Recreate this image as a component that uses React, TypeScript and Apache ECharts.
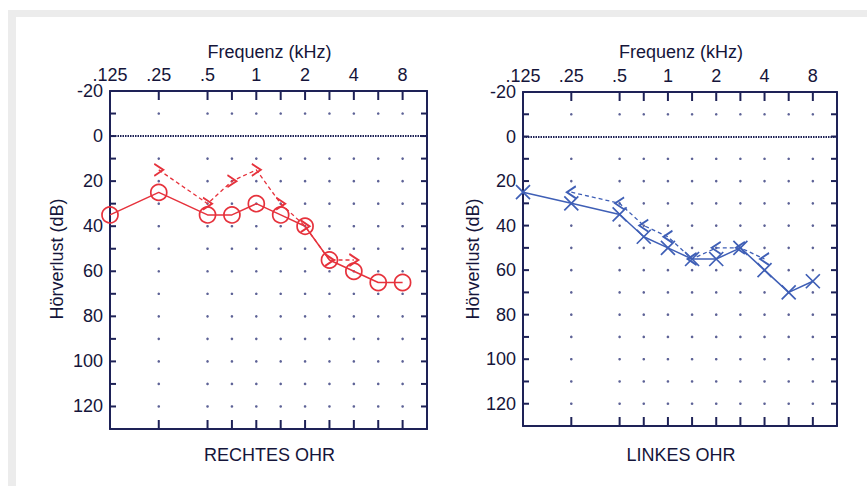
import React, { useEffect, useRef } from "react";
import * as echarts from "echarts";

// ---- data ----
const FREQ_TICK_VALUES = [0.125, 0.25, 0.5, 1, 2, 4, 8];
const FREQ_TICK_LABELS = [".125", ".25", ".5", "1", "2", "4", "8"];
const FREQ_COLUMNS = [0.25, 0.5, 0.75, 1, 1.5, 2, 3, 4, 6, 8];
const DB_DOT_ROWS = [-10, 10, 20, 30, 40, 50, 60, 70, 80, 90, 100, 110, 120];
const DB_TICK_ROWS = [-10, 0, 10, 20, 30, 40, 50, 60, 70, 80, 90, 100, 110, 120];

const AIR_FREQS = [0.125, 0.25, 0.5, 0.75, 1, 1.5, 2, 3, 4, 6, 8];
const BONE_FREQS = [0.25, 0.5, 0.75, 1, 1.5, 2, 3, 4];

const RIGHT_AIR = [35, 25, 35, 35, 30, 35, 40, 55, 60, 65, 65];
const RIGHT_BONE = [15, 30, 20, 15, 30, 40, 55, 55];
const LEFT_AIR = [25, 30, 35, 45, 50, 55, 55, 50, 60, 70, 65];
const LEFT_BONE = [25, 30, 40, 45, 55, 50, 50, 55];

const TITLES = ["RECHTES OHR", "LINKES OHR"];

// ---- styles ----
const NAVY = "#1e2257";
const TEXT = "#15153a";
const RED = "#e6323c";
const BLUE = "#3f5fb6";
const FONT = "'Liberation Sans', Arial, sans-serif";

const X_MIN = 0;
const X_MAX = 13;
const Y_MIN = -20;
const Y_MAX = 130;

// audiogram position: half-octave steps from 0.125 kHz
const freqPos = (f: number) => Math.round(2 * Math.log2(f / 0.125));

const GRIDS = [
  { left: 110, top: 91, width: 317, height: 338 },
  { left: 523, top: 92, width: 314, height: 334 },
];

function xAxes(gi: number) {
  const common = {
    type: "value" as const,
    gridIndex: gi,
    min: X_MIN,
    max: X_MAX,
    interval: 1,
    splitLine: { show: false },
    axisLine: { show: true, onZero: false, lineStyle: { color: NAVY, width: 2 } },
    axisTick: { show: false },
  };
  return [
    {
      ...common,
      position: "top",
      axisLabel: {
        show: true,
        customValues: FREQ_TICK_VALUES.map(freqPos),
        formatter: (v: number) => {
          const i = FREQ_TICK_VALUES.map(freqPos).indexOf(Math.round(v));
          return i >= 0 ? FREQ_TICK_LABELS[i] : "";
        },
        color: TEXT,
        fontSize: 18,
        fontFamily: FONT,
        margin: 7,
      },
    },
    { ...common, position: "bottom", axisLabel: { show: false } },
  ];
}

function yAxes(gi: number) {
  const common = {
    type: "value" as const,
    gridIndex: gi,
    inverse: true,
    min: Y_MIN,
    max: Y_MAX,
    interval: 10,
    splitLine: { show: false },
    axisLine: { show: true, onZero: false, lineStyle: { color: NAVY, width: 2 } },
    axisTick: { show: false },
  };
  return [
    {
      ...common,
      position: "left",
      axisLabel: {
        show: true,
        formatter: (v: number) => (v % 20 === 0 && v <= 120 ? String(v) : ""),
        color: TEXT,
        fontSize: 18,
        fontFamily: FONT,
        margin: 7,
      },
    },
    { ...common, position: "right", axisLabel: { show: false } },
  ];
}

function seriesFor(gi: number, air: number[], bone: number[], color: string, airSymbol: string, boneSymbol: string, airSize: number, airFill: string) {
  const xi = gi * 2;
  const yi = gi * 2;
  const dots: number[][] = [];
  FREQ_COLUMNS.forEach((f) => DB_DOT_ROWS.forEach((d) => dots.push([freqPos(f), d])));
  return [
    {
      type: "scatter",
      xAxisIndex: xi,
      yAxisIndex: yi,
      data: dots,
      symbol: "circle",
      symbolSize: 2.6,
      itemStyle: { color: "#343b7c" },
      silent: true,
      z: 1,
      markLine: {
        silent: true,
        symbol: ["none", "none"],
        label: { show: false },
        lineStyle: { color: NAVY, type: [1.5, 1], width: 2 },
        data: [{ yAxis: 0 }],
      },
    },
    {
      type: "line",
      xAxisIndex: xi,
      yAxisIndex: yi,
      data: BONE_FREQS.map((f, i) => [freqPos(f), bone[i]]),
      symbol: boneSymbol,
      symbolSize: [9, 12],
      showSymbol: true,
      clip: false,
      lineStyle: { color, width: 1.3, type: [4, 3] },
      itemStyle: { color: "rgba(0,0,0,0)", borderColor: color, borderWidth: 1.8 },
      emphasis: { disabled: true },
      z: 3,
    },
    {
      type: "line",
      xAxisIndex: xi,
      yAxisIndex: yi,
      data: AIR_FREQS.map((f, i) => [freqPos(f), air[i]]),
      symbol: airSymbol,
      symbolSize: airSize,
      showSymbol: true,
      clip: false,
      lineStyle: { color, width: 1.5 },
      itemStyle: { color: airFill, borderColor: color, borderWidth: 1.7 },
      emphasis: { disabled: true },
      z: 4,
    },
  ];
}

export default function App() {
  const ref = useRef<HTMLDivElement>(null);
  useEffect(() => {
    if (!ref.current) return;
    const chart = echarts.init(ref.current, null, { renderer: "svg" });
    const textStyle = { fill: TEXT, fontSize: 18, fontFamily: FONT, align: "center", verticalAlign: "middle" };
    const centers = GRIDS.map((g) => g.left + g.width / 2);
    const baseGraphics: any[] = [
      { type: "rect", z: -10, silent: true, shape: { x: 8, y: 10, width: 859, height: 476 }, style: { fill: "#ececec" } },
      { type: "rect", z: -9, silent: true, shape: { x: 16, y: 17, width: 851, height: 469 }, style: { fill: "#ffffff" } },
      ...centers.map((cx) => ({ type: "text", x: cx + 1, y: 52, style: { ...textStyle, text: "Frequenz (kHz)" } })),
      ...centers.map((cx, i) => ({ type: "text", x: cx + 1, y: 455, style: { ...textStyle, text: TITLES[i] } })),
      ...[57, 473].map((x) => ({
        type: "text",
        x,
        y: 259,
        rotation: Math.PI / 2,
        style: { ...textStyle, text: "Hörverlust (dB)" },
      })),
    ];
    chart.setOption({
      animation: false,
      backgroundColor: "#ffffff",
      grid: GRIDS,
      xAxis: [...xAxes(0), ...xAxes(1)],
      yAxis: [...yAxes(0), ...yAxes(1)],
      series: [
        ...seriesFor(0, RIGHT_AIR, RIGHT_BONE, RED, "circle", "path://M0,0L8,5L0,10", 16, "rgba(255,255,255,0)"),
        ...seriesFor(1, LEFT_AIR, LEFT_BONE, BLUE, "path://M0,0L10,10M10,0L0,10", "path://M8,0L0,5L8,10", 14, "rgba(0,0,0,0)"),
      ],
    });

    // inward tick marks, positioned through the axes' own scales
    const tickEls: any[] = [];
    const seg = (x1: number, y1: number, x2: number, y2: number) => ({
      type: "line",
      silent: true,
      z: 50,
      shape: { x1, y1, x2, y2 },
      style: { stroke: NAVY, lineWidth: 2 },
    });
    GRIDS.forEach((_, gi) => {
      const finder = { xAxisIndex: gi * 2, yAxisIndex: gi * 2 };
      FREQ_COLUMNS.forEach((f) => {
        const t = chart.convertToPixel(finder, [freqPos(f), Y_MIN]) as number[];
        const b = chart.convertToPixel(finder, [freqPos(f), Y_MAX]) as number[];
        if (t && isFinite(t[0]) && isFinite(t[1])) tickEls.push(seg(t[0], t[1], t[0], t[1] + 9));
        if (b && isFinite(b[0]) && isFinite(b[1])) tickEls.push(seg(b[0], b[1], b[0], b[1] - 9));
      });
      DB_TICK_ROWS.forEach((d) => {
        const l = chart.convertToPixel(finder, [X_MIN, d]) as number[];
        const r = chart.convertToPixel(finder, [X_MAX, d]) as number[];
        if (l && isFinite(l[0]) && isFinite(l[1])) tickEls.push(seg(l[0], l[1], l[0] + 6, l[1]));
        if (r && isFinite(r[0]) && isFinite(r[1])) tickEls.push(seg(r[0], r[1], r[0] - 6, r[1]));
      });
    });
    chart.setOption({ graphic: [...baseGraphics, ...tickEls] });
    return () => chart.dispose();
  }, []);
  return <div ref={ref} style={{ position: "absolute", left: 0, top: 0, width: 867, height: 486 }} />;
}
